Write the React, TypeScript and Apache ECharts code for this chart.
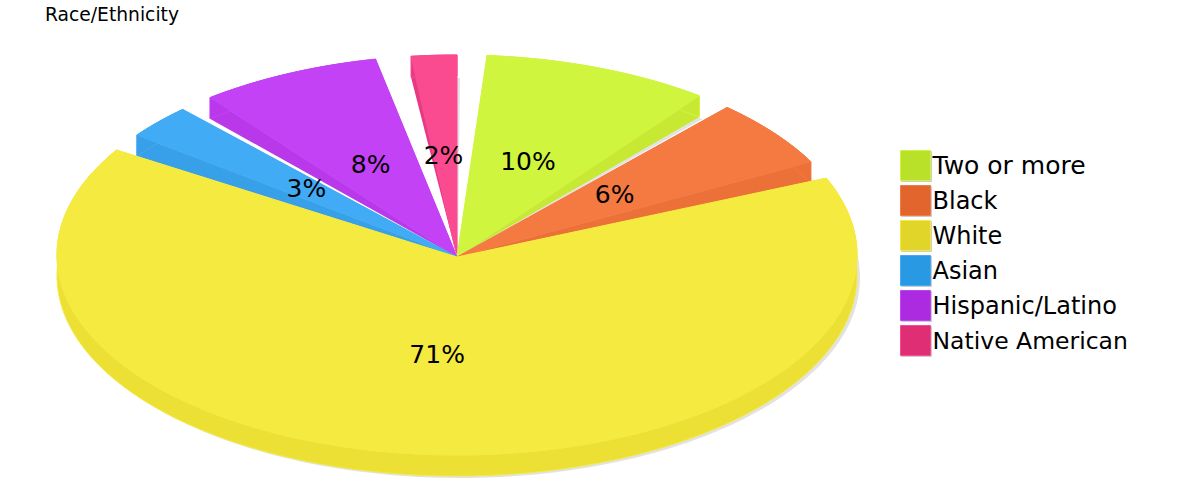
import React, { useEffect, useRef } from "react";
import * as echarts from "echarts";

const categories = ["Two or more", "Black", "White", "Asian", "Hispanic/Latino", "Native American"];
const values = [10, 6, 71, 3, 8, 2];
const percentLabels = ["10%", "6%", "71%", "3%", "8%", "2%"];
const labelTurns = [0.6, 0.6, 0.6, 0.2, 0, 0];
const legendColors = ["#bae12a", "#e2652f", "#e2d52b", "#2c99e4", "#ac2adf", "#e02e75"];
const legendEdges = ["#d0f53f", "#f57a42", "#f5ea40", "#42abf5", "#c342f5", "#fa4a90"];
const legendFontSizes = [25, 24, 24, 24, 24, 23.5];
const topColors = ["#d0f53f", "#f57a42", "#f5ea40", "#42abf5", "#c342f5", "#fa4a90"];
const wallColors = ["#c8e933", "#eb7138", "#ebe033", "#389fe9", "#b838ea", "#e63a83"];
const drawOrder = [5, 0, 4, 1, 3, 2];

const APEX_X = 457, APEX_Y = 257, ELL_X = 457, ELL_Y = 255, RX = 400, RY = 200, DEPTH = 21;
const FIRST_ANGLE = 4.3, GAP = 5.14, USABLE = 330;
const total = values.reduce((a, b) => a + b, 0);

function slices() {
  let at = FIRST_ANGLE;
  return values.map((v) => {
    const start = at;
    const end = start + (v / total) * USABLE;
    at = end + GAP;
    return { start, end };
  });
}
const spans = slices();

function pt(deg: number, dy = 0, dx = 0): number[] {
  const r = (deg * Math.PI) / 180;
  return [ELL_X + RX * Math.sin(r) + dx, ELL_Y - RY * Math.cos(r) + dy];
}
function arc(a: number, b: number, dy = 0, dx = 0): number[][] {
  const n = Math.max(2, Math.ceil(b - a));
  const out: number[][] = [];
  for (let i = 0; i <= n; i++) out.push(pt(a + ((b - a) * i) / n, dy, dx));
  return out;
}

function renderSlice(i: number) {
  return (_params: any, api: any) => {
    const v = api.value(0);
    const { start } = spans[i];
    const end = start + (v / total) * USABLE;
    const apex = [APEX_X, APEX_Y];
    const poly = (points: number[][], fill: string, stroke?: string) => ({
      type: "polygon",
      shape: { points },
      style: { fill, stroke: stroke || fill, lineWidth: stroke ? 1 : 0 },
      silent: true,
    });
    const band = [...arc(start, end), ...arc(start, end, DEPTH).reverse()];
    return {
      type: "group",
      children: [
        poly([[APEX_X + 1, APEX_Y], ...arc(start, end, DEPTH + 2, 3)], "#e2e2e2"),
        poly([apex, pt(start), pt(start, DEPTH)], wallColors[i]),
        poly([apex, pt(end), pt(end, DEPTH)], wallColors[i]),
        poly(band, wallColors[i], topColors[i]),
        poly([apex, ...arc(start, end)], topColors[i], topColors[i]),
      ],
    };
  };
}

function renderLabel(_params: any, api: any) {
  const i = api.value(0);
  const mid = ((spans[i].start + spans[i].end) / 2 + labelTurns[i]) * (Math.PI / 180);
  return {
    type: "text",
    x: APEX_X + 0.5 * RX * Math.sin(mid) - 2,
    y: APEX_Y - 0.5 * RY * Math.cos(mid) - 2,
    silent: true,
    style: {
      text: percentLabels[i],
      fill: "#000",
      font: '25px "DejaVu Sans"',
      align: "center",
      verticalAlign: "middle",
    },
  };
}

export default function App() {
  const ref = useRef<HTMLDivElement>(null);
  useEffect(() => {
    document.body.style.margin = "0";
    const chart = echarts.init(ref.current!, undefined, { renderer: "svg" });
    chart.setOption({
      animation: false,
      backgroundColor: "#fff",
      title: {
        text: "Race/Ethnicity",
        left: 45,
        top: 5,
        padding: 0,
        textStyle: {
          fontFamily: "DejaVu Sans",
          fontWeight: "normal",
          fontSize: 18.7,
          color: "#000",
          textShadowColor: "rgba(0,0,0,0.12)",
          textShadowOffsetX: 0,
          textShadowOffsetY: 3,
          textShadowBlur: 0,
        },
      },
      legend: {
        orient: "vertical",
        left: 900,
        top: 150,
        padding: 0,
        itemWidth: 30,
        itemHeight: 30,
        itemGap: 4,
        selectedMode: false,
        data: categories.map((name, i) => ({
          name,
          icon: "rect",
          textStyle: { fontSize: legendFontSizes[i] },
          itemStyle: {
            color: legendColors[i],
            borderColor: legendEdges[i],
            borderWidth: 1,
            shadowColor: "#cccccc",
            shadowOffsetX: 1,
            shadowOffsetY: 1,
            shadowBlur: 0,
          },
        })),
        textStyle: {
          fontFamily: "DejaVu Sans",
          fontSize: 24,
          color: "#000",
          padding: [0, 0, 0, -3],
        },
      },
      series: [
        ...drawOrder.map((i, rank) => ({
          type: "custom",
          name: categories[i],
          coordinateSystem: "none",
          z: 2 + rank,
          silent: true,
          itemStyle: { color: legendColors[i] },
          data: [[values[i]]],
          renderItem: renderSlice(i),
        })),
        {
          type: "custom",
          name: "Percent",
          coordinateSystem: "none",
          z: 20,
          silent: true,
          data: values.map((_, i) => [i]),
          renderItem: renderLabel,
        },
      ],
    });
    return () => chart.dispose();
  }, []);
  return <div ref={ref} style={{ width: 1200, height: 500 }} />;
}
